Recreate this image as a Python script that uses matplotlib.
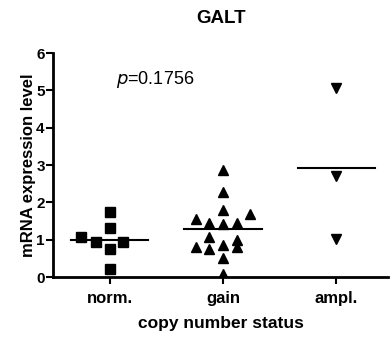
import numpy as np
import matplotlib
matplotlib.use('Agg')
import matplotlib.pyplot as plt

plt.rcParams['font.family'] = ['Liberation Sans', 'DejaVu Sans']

categories = ['norm.', 'gain', 'ampl.']

# x offsets in units of slot width, read by eye
norm_off = [-0.25, -0.12, 0.0, 0.0, 0.0, 0.0, 0.12]
norm_vals = [1.08, 0.93, 1.74, 1.31, 0.75, 0.21, 0.95]

gain_off = [0.0, 0.0, 0.0, -0.24, -0.12, 0.0, 0.12, 0.24,
            -0.12, -0.24, -0.12, 0.0, 0.12, 0.12, 0.0, 0.0]
gain_vals = [2.86, 2.27, 1.81, 1.57, 1.46, 1.43, 1.46, 1.70,
             1.07, 0.82, 0.75, 0.85, 0.99, 0.82, 0.50, 0.08]

ampl_off = [0.0, 0.0, 0.0]
ampl_vals = [5.07, 2.72, 1.01]

fig = plt.figure(figsize=(3.9, 3.38), dpi=100)
ax = fig.add_axes([0.136, 0.180, 0.860, 0.663])

groups = [(norm_off, norm_vals, 's', 6.8),
          (gain_off, gain_vals, '^', 7),
          (ampl_off, ampl_vals, 'v', 7)]
for i, (off, vals, mk, ms) in enumerate(groups):
    xs = i + np.array(off)
    ax.plot(xs, vals, linestyle='none', marker=mk, color='black', markersize=ms)
    m = np.mean(vals)
    ax.plot([i - 0.34, i + 0.34], [m, m], color='black', lw=1.5)

ax.text(0.4, 5.3, '$\\it{p}$=0.1756', fontsize=13, ha='center', va='center')

ax.set_xlim(-0.5, 2.46)
ax.set_ylim(0, 6)
ax.set_xticks(range(len(categories)))
ax.set_xticklabels(categories, fontsize=12, fontweight='bold')
ax.set_yticks(range(0, 7))
ax.tick_params(axis='y', labelsize=11, width=1.5, length=5, pad=1)
ax.tick_params(axis='x', width=1.5, length=5, pad=5)
for lab in ax.get_yticklabels():
    lab.set_fontweight('bold')

for s in ['top', 'right']:
    ax.spines[s].set_visible(False)
for s in ['left', 'bottom']:
    ax.spines[s].set_linewidth(2)

ax.set_xlabel('copy number status', fontsize=12.5, fontweight='bold', labelpad=7)
ax.set_ylabel('mRNA expression level', fontsize=12, fontweight='bold', labelpad=0)
ax.set_title('GALT', fontsize=13.5, fontweight='bold', pad=22)

fig.savefig('out.png', dpi=100)
